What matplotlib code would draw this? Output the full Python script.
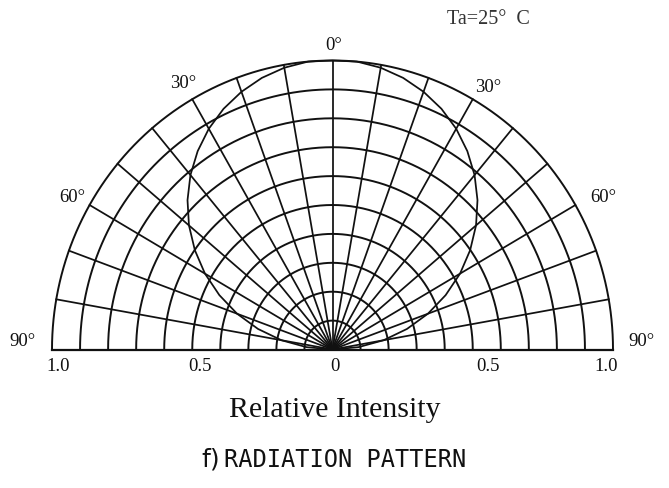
"""Radiation pattern chart (polar half-plane grid with relative intensity)."""
import numpy as np
import matplotlib
matplotlib.use("Agg")
import matplotlib.pyplot as plt

# Pattern data: angle off axis (deg) -> relative intensity (symmetric)
angles_deg = [0, 5, 10, 15, 20, 25, 30, 35, 40, 45, 50, 55, 60, 65, 70, 75, 80, 85, 90]
intensity = [1.00, 1.00, 0.99, 0.973, 0.949, 0.919, 0.882, 0.838, 0.788, 0.731,
             0.668, 0.599, 0.525, 0.445, 0.362, 0.275, 0.185, 0.093, 0.0]

# Grid
grid_radii = [0.1, 0.2, 0.3, 0.4, 0.5, 0.6, 0.7, 0.8, 0.9, 1.0]
spoke_angles = list(range(-90, 91, 10))

# Labels
angle_labels = ["90°", "60°", "30°", "0°", "30°", "60°", "90°"]
tick_labels = ["1.0", "0.5", "0", "0.5", "1.0"]

W, H = 669, 489
fig = plt.figure(figsize=(W / 100, H / 100), dpi=100)
ax = fig.add_axes([52 / W, (H - 350.5) / H, 561 / W, 289 / H])
ax.set_xlim(-1, 1)
ax.set_ylim(0, 1)
ax.set_axis_off()

LW = 1.4
INK = "#111111"

# concentric half circles
t = np.radians(np.linspace(-90, 90, 361))
for r in grid_radii:
    ax.plot(r * np.sin(t), r * np.cos(t), color=INK, lw=LW, clip_on=False,
            solid_capstyle="butt")

# spokes
for a in spoke_angles:
    ar = np.radians(a)
    ax.plot([0, np.sin(ar)], [0, np.cos(ar)], color=INK, lw=LW * 0.9,
            clip_on=False)

# baseline
ax.plot([-1, 1], [0, 0], color=INK, lw=LW * 1.15, clip_on=False)

# pattern (mirror the right half onto the left)
th = np.radians(np.array(angles_deg))
r = np.array(intensity)
full_th = np.concatenate([-th[::-1], th[1:]])
full_r = np.concatenate([r[::-1], r[1:]])
ax.plot(full_r * np.sin(full_th), full_r * np.cos(full_th), color=INK,
        lw=LW * 0.9, clip_on=False)

serif = "Liberation Serif"

# angle labels (figure pixel coords)
lab_pos = [(22, 342), (72, 197), (183, 83), (334, 45),
           (488, 87), (603, 197), (641, 342)]
for (px, py), s in zip(lab_pos, angle_labels):
    fig.text(px / W, 1 - py / H, s, ha="center", va="center",
             fontsize=13.5, family=serif, color=INK)

# intensity tick labels under the baseline
tick_px = [58, 200, 335, 488, 606]
for px, s in zip(tick_px, tick_labels):
    fig.text(px / W, 1 - 367 / H, s, ha="center", va="center",
             fontsize=13.5, family=serif, color=INK)

fig.text(335 / W, 1 - 410 / H, "Relative Intensity", ha="center",
         va="center", fontsize=21.5, family=serif, color=INK)

fig.text(488 / W, 1 - 19 / H, "Ta=25°  C", ha="center", va="center",
         fontsize=14.5, family=serif, color="#333333")

fig.text(211 / W, 1 - 460 / H, "f)", ha="center", va="center",
         fontsize=18, family="DejaVu Sans", fontweight="medium", color=INK)
fig.text(224 / W, 1 - 460 / H, "RADIATION PATTERN", ha="left", va="center",
         fontsize=17, family="DejaVu Sans Mono", color=INK)

fig.savefig("out.png", dpi=100, facecolor="white")
